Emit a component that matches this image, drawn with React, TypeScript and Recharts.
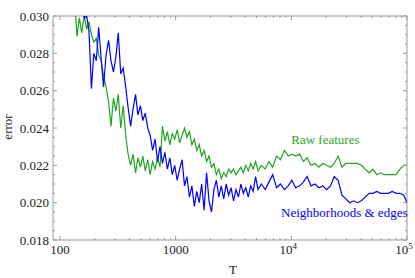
import { LineChart, Line, XAxis, YAxis, ReferenceLine, ReferenceDot } from "recharts";

// training-set size T (log axis)
const T = [
  135, 140, 147, 154, 162, 170, 178, 187, 196, 206, 216, 227, 238, 250, 263, 276, 290, 304, 319, 335,
  352, 370, 388, 408, 428, 450, 472, 496, 520, 546, 574, 602, 632, 664, 697, 732, 769, 807, 848, 890,
  935, 981, 1030, 1082, 1136, 1193, 1252, 1315, 1381, 1450, 1522, 1598, 1678, 1762, 1850, 1943, 2040,
  2142, 2249, 2361, 2479, 2603, 2733, 2870, 3014, 3164, 3323, 3489, 3663, 3846, 4039, 4241, 4453, 4675,
  4909, 5155, 5500, 5950, 6400, 6900, 7450, 8050, 8700, 9400, 10100, 10900, 11800, 12700, 13700, 14800,
  16000, 17300, 18700, 20200, 21800, 23500, 25400, 27400, 29600, 32000, 34500, 37300, 40300, 43500,
  47000, 50700, 54800, 59200, 63900, 69000, 74500, 80500, 86900, 93800, 100000,
];

const rawFeatures = [
  0.0306, 0.0289, 0.0299, 0.0291, 0.03, 0.0293, 0.0297, 0.029, 0.0286, 0.0288, 0.0279, 0.0276, 0.0268,
  0.0262, 0.0254, 0.0241, 0.0256, 0.0249, 0.0258, 0.024, 0.0252, 0.0236, 0.0226, 0.022, 0.0226, 0.0216,
  0.0224, 0.0219, 0.0225, 0.0217, 0.0223, 0.0215, 0.0222, 0.0218, 0.0224, 0.0219, 0.0241, 0.0233,
  0.0238, 0.0231, 0.0237, 0.0234, 0.0239, 0.0232, 0.0236, 0.024, 0.0235, 0.0238, 0.0231, 0.0234,
  0.0228, 0.0231, 0.0225, 0.0228, 0.0222, 0.0225, 0.0219, 0.0221, 0.0215, 0.0218, 0.0213, 0.0216,
  0.0214, 0.0218, 0.0216, 0.0218, 0.0215, 0.0217, 0.0219, 0.0216, 0.022, 0.0217, 0.0221, 0.0218,
  0.0222, 0.0217, 0.022, 0.0218, 0.0222, 0.0219, 0.0225, 0.0223, 0.0228, 0.0225, 0.0226, 0.0225,
  0.0226, 0.0222, 0.0224, 0.022, 0.0221, 0.0219, 0.0221, 0.022, 0.0219, 0.0221, 0.0225, 0.0219, 0.0221,
  0.0221, 0.0221, 0.0221, 0.022, 0.0218, 0.0216, 0.0218, 0.0215, 0.0216, 0.0215, 0.0215, 0.0215,
  0.0215, 0.0218, 0.022, 0.022,
];

const neighborhoodsEdges = [
  0.032, 0.0315, 0.031, 0.0306, 0.0299, 0.03, 0.0292, 0.0261, 0.028, 0.0276, 0.0294, 0.0277, 0.0262,
  0.0279, 0.0287, 0.0276, 0.027, 0.0278, 0.0291, 0.0269, 0.0272, 0.0262, 0.0251, 0.0241, 0.025, 0.0258,
  0.0247, 0.0252, 0.0244, 0.0248, 0.024, 0.0236, 0.0228, 0.0234, 0.0222, 0.023, 0.0221, 0.0227,
  0.0218, 0.0224, 0.0215, 0.022, 0.0212, 0.0218, 0.0223, 0.0209, 0.0214, 0.0203, 0.0209, 0.0198,
  0.0206, 0.02, 0.021, 0.0196, 0.0216, 0.0201, 0.0195, 0.0207, 0.0212, 0.0203, 0.0209, 0.0202, 0.021,
  0.0204, 0.0208, 0.0201, 0.0207, 0.0203, 0.021, 0.0205, 0.0208, 0.0203, 0.0209, 0.0206, 0.0214,
  0.0207, 0.021, 0.0207, 0.0211, 0.0215, 0.0208, 0.021, 0.0207, 0.0209, 0.0212, 0.0208, 0.0209,
  0.0211, 0.0214, 0.0209, 0.021, 0.0208, 0.0209, 0.0207, 0.0209, 0.0214, 0.0212, 0.0204, 0.0202, 0.02,
  0.0201, 0.02, 0.0201, 0.0203, 0.0205, 0.0205, 0.0206, 0.0205, 0.0205, 0.0205, 0.0206, 0.0205,
  0.0205, 0.0204, 0.02,
];

const xMajorTicks = [100, 1000, 10000, 100000];
const xMinorTicks = [
  200, 300, 400, 500, 600, 700, 800, 900, 2000, 3000, 4000, 5000, 6000, 7000, 8000, 9000, 20000, 30000,
  40000, 50000, 60000, 70000, 80000, 90000,
];
const yMajorTicks = [0.018, 0.02, 0.022, 0.024, 0.026, 0.028, 0.03];
const yMinorTicks = [
  0.0185, 0.019, 0.0195, 0.0205, 0.021, 0.0215, 0.0225, 0.023, 0.0235, 0.0245, 0.025, 0.0255, 0.0265,
  0.027, 0.0275, 0.0285, 0.029, 0.0295,
];

const W = 415;
const H = 278;
const TOP = 16;
const LEFT = 53;
const RIGHT = 407;
const BOTTOM = 240;

const FRAME = "#999999";
const GREEN = "#1fa61f";
const BLUE = "#0000ff";
const FONT = "'Liberation Serif', 'DejaVu Serif', serif";

const data = T.map((t, i) => ({ T: t, raw: rawFeatures[i], nbr: neighborhoodsEdges[i] }));

const isMajor = (list: number[], v: number) => list.some((m) => Math.abs(m - v) < 1e-9);

function XTick(props: any) {
  const { x, payload } = props;
  const v = payload.value as number;
  const major = isMajor(xMajorTicks, v);
  const len = major ? 4 : 2;
  let label: any = null;
  if (major) {
    const exp = Math.round(Math.log10(v));
    label =
      exp <= 3 ? (
        <text x={x} y={254} textAnchor="middle" fontSize={13} fill="#222" fontFamily={FONT}>
          {String(v)}
        </text>
      ) : (
        <text x={x - 3} y={254} textAnchor="middle" fontSize={13} fill="#222" fontFamily={FONT}>
          10
          <tspan dy={-5} fontSize={9}>
            {exp}
          </tspan>
        </text>
      );
  }
  return (
    <g>
      <line x1={x} x2={x} y1={BOTTOM} y2={BOTTOM - len} stroke={FRAME} />
      <line x1={x} x2={x} y1={TOP} y2={TOP + len} stroke={FRAME} />
      {label}
    </g>
  );
}

function YTick(props: any) {
  const { y, payload } = props;
  const v = payload.value as number;
  const major = isMajor(yMajorTicks, v);
  const len = major ? 4 : 2;
  return (
    <g>
      <line x1={LEFT} x2={LEFT + len} y1={y} y2={y} stroke={FRAME} />
      <line x1={RIGHT} x2={RIGHT - len} y1={y} y2={y} stroke={FRAME} />
      {major && (
        <text x={49} y={y + 4.5} textAnchor="end" fontSize={13} fill="#222" fontFamily={FONT}>
          {v.toFixed(3)}
        </text>
      )}
    </g>
  );
}

export default function App() {
  return (
    <div style={{ position: "absolute", left: 0, top: 0, width: W, height: H, background: "#fff" }}>
      <LineChart width={W} height={H} data={data} margin={{ top: TOP, right: W - RIGHT, left: 0, bottom: 0 }}>
        <XAxis
          dataKey="T"
          type="number"
          scale="log"
          domain={[87, 100000]}
          allowDataOverflow
          ticks={[...xMajorTicks, ...xMinorTicks].sort((a, b) => a - b)}
          interval={0}
          height={H - BOTTOM}
          tickLine={false}
          tickSize={0}
          tickMargin={4}
          stroke={FRAME}
          tick={<XTick />}
          label={{
            content: () => (
              <text x={233} y={274} textAnchor="middle" fontSize={13} fill="#222" fontFamily={FONT}>
                T
              </text>
            ),
          }}
        />
        <YAxis
          type="number"
          domain={[0.018, 0.03]}
          allowDataOverflow
          ticks={[...yMajorTicks, ...yMinorTicks].sort((a, b) => a - b)}
          interval={0}
          width={LEFT}
          tickLine={false}
          tickSize={0}
          tickMargin={4}
          stroke={FRAME}
          tick={<YTick />}
          label={{
            content: () => (
              <text
                x={12}
                y={127}
                transform="rotate(-90 12 127)"
                textAnchor="middle"
                fontSize={13}
                fill="#222"
                fontFamily={FONT}
              >
                error
              </text>
            ),
          }}
        />
        <ReferenceLine y={0.03} stroke={FRAME} />
        <ReferenceLine x={100000} stroke={FRAME} />
        <Line
          dataKey="raw"
          stroke={GREEN}
          strokeWidth={1.2}
          dot={false}
          isAnimationActive={false}
        />
        <Line
          dataKey="nbr"
          stroke={BLUE}
          strokeWidth={1.2}
          dot={false}
          isAnimationActive={false}
        />
        <ReferenceDot
          x={19700}
          y={0.0234}
          r={0}
          stroke="none"
          label={{ value: "Raw features", position: "center", fill: GREEN, fontSize: 13, fontFamily: FONT }}
        />
        <ReferenceDot
          x={28700}
          y={0.01947}
          r={0}
          stroke="none"
          label={{
            value: "Neighborhoods & edges",
            position: "center",
            fill: BLUE,
            fontSize: 13,
            fontFamily: FONT,
          }}
        />
      </LineChart>
    </div>
  );
}
